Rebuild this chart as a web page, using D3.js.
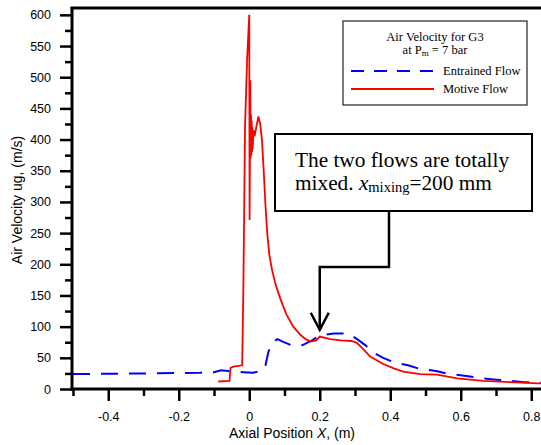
<!DOCTYPE html>
<html><head><meta charset="utf-8">
<script src="https://cdn.jsdelivr.net/npm/d3@7"></script>
<style>body{margin:0;background:#fff}svg{display:block}</style>
</head><body>
<svg id="c" width="541" height="445"></svg>
<script>
// ---- data ----
const entrainedX = [-0.5,-0.3,-0.14,-0.1,-0.08,-0.06,-0.05,-0.017,0.011,0.04,0.045,0.054,0.065,0.08,0.095,0.12,0.15,0.175,0.2,0.24,0.28,0.306,0.33,0.35,0.38,0.41,0.45,0.485,0.53,0.56,0.6,0.65,0.7,0.74,0.78,0.82,0.9];
const entrainedY = [24,25,26,27,30,29,28,27,26,30,35,59,75,80,76,70,70,77,86,89,89,80,70,59,50,43,38,32,29,25,22,18,15,13,11,10,9];
const motiveX = [-0.088,-0.056,-0.053,-0.045,-0.03,-0.02,-0.017,-0.015,-0.012,-0.006,0.0,0.001,0.003,0.004,0.005,0.006,0.007,0.008,0.009,0.010,0.012,0.015,0.02,0.026,0.031,0.036,0.041,0.046,0.051,0.057,0.065,0.075,0.088,0.105,0.125,0.145,0.16,0.175,0.19,0.2,0.23,0.26,0.29,0.305,0.32,0.343,0.38,0.41,0.437,0.485,0.533,0.59,0.664,0.74,0.82,0.9];
const motiveY = [12,13,34,36,37,38,150,250,420,530,600,271,495,370,440,375,430,380,420,385,415,405,420,437,425,400,350,295,250,215,190,167,145,120,100,87,80,76,78,84,80,78,77,74,66,52,40,33,28,24,23,17,13,11,9,8];
const xMajorTicks = [-0.4,-0.2,0,0.2,0.4,0.6,0.8];
const xTickLabels = ["-0.4","-0.2","0","0.2","0.4","0.6","0.8"];
const xMinorTicks = [-0.5,-0.3,-0.1,0.1,0.3,0.5,0.7];
const yMajorTicks = [0,50,100,150,200,250,300,350,400,450,500,550,600];
const yMinorTicks = [25,75,125,175,225,275,325,375,425,475,525,575];
const seriesNames = ["Entrained Flow","Motive Flow"];
const legendTitle = ["Air Velocity for G3","at P","m"," = 7 bar"];
const mixingX = 0.2, mixingY = 95;

// ---- layout ----
const svg = d3.select("#c");
const L = 72, T = 8, B = 389, R = 541;
const x = d3.scaleLinear().domain([-0.5, 0.9]).range([73, 566.5]);
const y = d3.scaleLinear().domain([0, 611]).range([B, T]);
const sans = "'Liberation Sans', Arial, sans-serif";
const serif = "'Liberation Serif', 'Times New Roman', serif";

svg.append("defs").append("clipPath").attr("id","clip")
  .append("rect").attr("x",L).attr("y",T).attr("width",R-L).attr("height",B-T);

const plot = svg.append("g").attr("clip-path","url(#clip)");
const line = d3.line().x(d=>x(d[0])).y(d=>y(d[1]));
plot.append("path").datum(entrainedX.map((v,i)=>[v,entrainedY[i]]))
  .attr("d",line).attr("fill","none").attr("stroke","#0000ff").attr("stroke-width",2)
  .attr("stroke-dasharray","17,11");
plot.append("path").datum(motiveX.map((v,i)=>[v,motiveY[i]]))
  .attr("d",line).attr("fill","none").attr("stroke","#ff0000").attr("stroke-width",1.8)
  .attr("stroke-linejoin","miter");

// axes
function styleAxis(g){
  g.select(".domain").remove();
  g.selectAll(".tick line").attr("stroke","#000").attr("stroke-width",2.5);
  g.selectAll("text").attr("font-family",sans).attr("font-size",12.5).attr("fill","#000");
}
svg.append("g").attr("transform",`translate(0,${B})`)
  .call(d3.axisBottom(x).tickValues(xMajorTicks).tickSize(12).tickPadding(11)
    .tickFormat((d,i)=>xTickLabels[i])).call(styleAxis);
svg.append("g").attr("transform",`translate(0,${B})`)
  .call(d3.axisBottom(x).tickValues(xMinorTicks).tickSize(7).tickFormat("")).call(styleAxis);
svg.append("g").attr("transform",`translate(${L},0)`)
  .call(d3.axisLeft(y).tickValues(yMajorTicks).tickSize(12).tickPadding(9)).call(styleAxis);
svg.append("g").attr("transform",`translate(${L},0)`)
  .call(d3.axisLeft(y).tickValues(yMinorTicks).tickSize(7).tickFormat("")).call(styleAxis);

// frame
svg.append("line").attr("x1",L).attr("x2",L).attr("y1",T-1).attr("y2",B+1.5).attr("stroke","#000").attr("stroke-width",3);
svg.append("line").attr("x1",L-1.5).attr("x2",R).attr("y1",B).attr("y2",B).attr("stroke","#000").attr("stroke-width",3);
svg.append("line").attr("x1",L-1.5).attr("x2",R).attr("y1",T).attr("y2",T).attr("stroke","#000").attr("stroke-width",3);

// axis titles
const xt = svg.append("text").attr("x",292).attr("y",438).attr("text-anchor","middle")
  .attr("font-family",sans).attr("font-size",14);
xt.append("tspan").text("Axial Position ");
xt.append("tspan").attr("font-style","italic").text("X");
xt.append("tspan").text(", (m)");
svg.append("text").attr("transform","translate(22,200) rotate(-90)").attr("text-anchor","middle")
  .attr("font-family",sans).attr("font-size",14).text("Air Velocity ug, (m/s)");

// legend
const lg = svg.append("g");
lg.append("rect").attr("x",343).attr("y",21).attr("width",184).attr("height",84)
  .attr("fill","#fff").attr("stroke","#333").attr("stroke-width",1.3);
lg.append("text").attr("x",435).attr("y",41).attr("text-anchor","middle")
  .attr("font-family",serif).attr("font-size",12.5).text(legendTitle[0]);
const t2 = lg.append("text").attr("x",435).attr("y",54).attr("text-anchor","middle")
  .attr("font-family",serif).attr("font-size",12.5);
t2.append("tspan").text(legendTitle[1]);
t2.append("tspan").attr("font-size",9).attr("dy",2).text(legendTitle[2]);
t2.append("tspan").attr("dy",-2).text(legendTitle[3]);
lg.append("line").attr("x1",351).attr("x2",434).attr("y1",71).attr("y2",71)
  .attr("stroke","#0000ff").attr("stroke-width",2).attr("stroke-dasharray","13,10");
lg.append("line").attr("x1",351).attr("x2",434).attr("y1",89).attr("y2",89)
  .attr("stroke","#ff0000").attr("stroke-width",2);
lg.append("text").attr("x",443).attr("y",75).attr("font-family",serif).attr("font-size",12.5).text(seriesNames[0]);
lg.append("text").attr("x",443).attr("y",93).attr("font-family",serif).attr("font-size",12.5).text(seriesNames[1]);

// annotation
const ax = x(mixingX), ay = y(mixingY);
svg.append("rect").attr("x",275).attr("y",134).attr("width",257).attr("height",77)
  .attr("fill","#fff").attr("stroke","#000").attr("stroke-width",2);
svg.append("text").attr("x",295).attr("y",167).attr("font-family",serif).attr("font-size",21.3)
  .text("The two flows are totally");
const a2 = svg.append("text").attr("x",295).attr("y",190).attr("font-family",serif).attr("font-size",21.3);
a2.append("tspan").text("mixed. ");
a2.append("tspan").attr("font-style","italic").text("x");
a2.append("tspan").attr("font-size",14.5).attr("dy",2).text("mixing");
a2.append("tspan").attr("dy",-2).text("=200 mm");
svg.append("polyline").attr("points",`389,211 389,267 ${ax},267 ${ax},${ay}`)
  .attr("fill","none").attr("stroke","#000").attr("stroke-width",2.5);
svg.append("polyline").attr("points",`${ax-9},${ay-17} ${ax},${ay} ${ax+9},${ay-17}`)
  .attr("fill","none").attr("stroke","#000").attr("stroke-width",2.5);
</script>
</body></html>
